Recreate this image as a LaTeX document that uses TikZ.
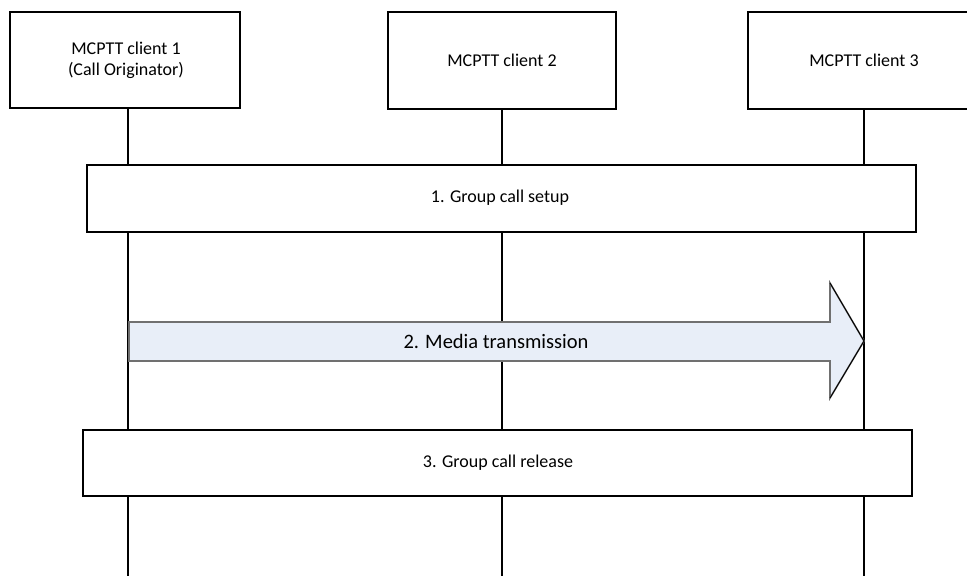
\documentclass[tikz,border=0pt]{standalone}
\usepackage{fontspec}
\setmainfont{Carlito}
\definecolor{arrowfill}{HTML}{E8EEF8}
\definecolor{arrowline}{HTML}{707070}
\begin{document}
\begin{tikzpicture}[x=1pt,y=-1pt,
  boxline/.style={draw=black, line width=1.6pt},
  stepline/.style={draw=black, line width=1.2pt, fill=white},
  lifeline/.style={draw=black, line width=1.2pt},
  lbl/.style={font=\fontsize{18}{21}\selectfont, align=center, inner sep=0pt}]
\useasboundingbox (0,0) rectangle (967,576);
% client boxes
\draw[boxline] (10,12) rectangle (240,108);
\node[lbl] (c1) at (126,60) {MCPTT client 1\\(Call Originator)};
\draw[boxline] (388,12) rectangle (616,109);
\node[lbl] (c2) at (502,60) {MCPTT client 2};
\draw[boxline] (967,12) -- (748,12) -- (748,109) -- (967,109);
\node[lbl] (c3) at (864,60) {MCPTT client 3};
% lifelines
\coordinate (l1t) at (128,109); \coordinate (l1b) at (128,576);
\coordinate (l2t) at (502,109); \coordinate (l2b) at (502,576);
\coordinate (l3t) at (864,109); \coordinate (l3b) at (864,576);
\draw[lifeline] (l1t) -- (l1b);
\draw[lifeline] (l2t) -- (l2b);
\draw[lifeline] (l3t) -- (l3b);
% step 1
\draw[stepline] (87,165) rectangle (916,232);
\node[lbl] (s1) at (500,198) {1. Group call setup};
% step 2 arrow
\filldraw[fill=arrowfill, draw=arrowline, line width=1.6pt]
  (129,322) -- (830,322) -- (830,283) -- (864,341) -- (830,398) -- (830,361) -- (129,361) -- cycle;
\draw[black, line width=0.9pt] (830,283) -- (864,341) -- (830,398);
\node[lbl, font=\fontsize{20.5}{24}\selectfont] (s2) at (496,341) {2. Media transmission};
% step 3
\draw[stepline] (83,430) rectangle (912,496);
\node[lbl] (s3) at (498,463) {3. Group call release};
\end{tikzpicture}
\end{document}
